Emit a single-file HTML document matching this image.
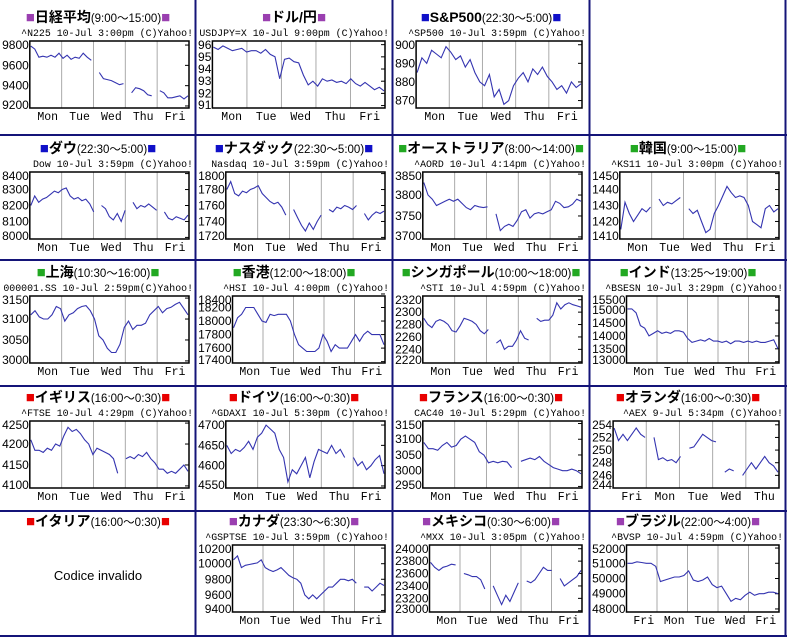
<!DOCTYPE html>
<html><head><meta charset="utf-8">
<style>
body{margin:0;background:#fff;}
svg{display:block;}
.tt{font-family:"Liberation Sans","Noto Sans CJK JP",sans-serif;}
</style></head>
<body>
<svg id="page" width="787" height="638" xmlns="http://www.w3.org/2000/svg"></svg>
<script>
// ---- data arrays ----
const n225 = [9790,9760,9680,9690,9680,9700,9680,9720,9670,9700,9660,9680,9670,9720,9680,9650,null,9530,9470,9460,9450,9430,9410,9420,null,9330,9380,9370,9350,9310,9300,null,9350,9330,9280,9280,9290,9300,9270,9300];
const usdjpy = [95.8,95.6,95.9,95.7,95.5,95.6,95.7,95.4,95.5,95.5,95.3,95.6,95.2,95.0,93.2,94.8,94.9,94.6,94.5,93.5,92.7,93.0,92.6,93.2,93.0,93.1,92.9,93.0,92.8,93.2,92.8,92.6,92.9,92.6,92.3,92.5,92.2];
const sp500 = [885,893,890,897,895,893,899,896,892,894,888,892,885,880,878,884,872,876,868,870,878,882,885,880,887,884,888,883,880,876,878,874,880,877,879];
const dow = [8200,8260,8220,8240,8250,8270,8290,8280,8300,8310,8260,8240,8250,8230,8240,8210,8160,null,8200,8180,8130,8110,8150,8100,8170,null,8220,8180,8200,8190,8210,8190,8170,null,8160,8120,8110,8130,8120,8110,8140];
const nasdaq = [1780,1790,1775,1772,1778,1776,1780,1782,1785,1775,1770,1765,1762,1764,1758,1748,null,1755,1745,1735,1728,1738,1730,1740,1748,null,1755,1752,1758,1756,1760,1758,1755,1760,null,1750,1742,1748,1752,1750,1753];
const aord = [3830,3800,3790,3775,3780,3785,3790,3785,3790,3780,3770,3765,3775,3772,3770,3772,null,3755,3715,3725,3730,3725,3740,3760,3765,3745,3755,3758,3755,3760,3765,3785,3780,3770,3772,3778,3790,3785];
const ks11 = [1415,1432,1425,1420,1424,1428,1426,1429,null,1434,1430,1432,1431,1433,1435,null,1428,1425,1427,1420,1413,1415,1425,1430,1436,1442,1438,1435,1436,1435,1430,1420,1418,1416,1428,1430,1426,1428];
const sse = [3110,3120,3105,3100,3100,3110,3130,3125,3095,3110,3115,3125,3130,3132,3120,3100,3060,3050,3030,3020,3020,3040,3080,3095,3075,3085,3085,3090,3110,3120,3130,3115,3125,3128,3135,3140,3125,3110];
const hsi = [17900,18050,18100,18200,18200,18200,18100,18000,17980,18100,18080,18100,18100,18100,18000,17800,17650,17600,17550,17550,17550,17600,17800,17700,17550,17650,17600,17600,17600,17700,17800,17700,17800,17850,17800,17800,17800,17650];
const sti = [2290,2280,2275,2285,2288,2285,2280,2270,2268,2278,2290,2288,2285,2280,2270,2265,2272,null,2250,2255,2240,2245,2245,2255,2270,2258,2255,null,2290,2285,2287,2287,2295,2315,2305,2312,2315,2312,2310,2308];
const bsesn = [15050,15050,14900,14400,14300,14000,14100,14200,14100,14150,14100,14200,14200,14150,13900,13750,13800,13850,13800,13900,13800,13800,13750,13800,13700,13800,13800,13750,13800,13750,13800,13750,13750,13800,13850,13500];
const ftse = [4210,4185,4185,4180,4190,4185,4200,4195,4220,4240,4230,4235,4225,4210,4200,4175,4190,4185,4180,4175,4165,4130,null,4165,4170,4165,4175,4170,4180,4165,4155,4140,4140,4130,4135,4130,4140,4150,4135];
const gdaxi = [4650,4630,4640,4635,4645,4660,4640,4670,4680,4700,4690,4680,4640,4620,4560,4590,4580,4600,4620,4570,4610,4640,4635,4630,4650,4630,4640,4620,null,4620,4600,4610,4590,4600,4615,4625,4580];
const cac40 = [3090,3070,3070,3065,3080,3090,3075,3080,3100,3110,3100,3090,3060,3050,3025,3030,3025,3030,3028,3010,null,3030,3035,3040,3035,3045,3030,3020,3010,3005,3000,3000,3005,3000,2990];
const aex = [253.5,251.5,252.5,251.5,252.5,253.5,252.5,252,null,252,248.5,248.8,248.3,248.5,248,249,null,250.3,250.5,251.5,252.5,252,251.5,251.3,null,246.5,247,246.7,null,246,247,248,247,248,249,248,247.5,246.5];
const gsptse = [10050,10100,9950,9980,9990,10000,10010,10050,9950,9920,9900,9920,9950,9900,9850,9820,9800,9750,9600,9550,9600,9550,9600,9650,9700,9700,9750,9800,9800,9780,9800,9750,null,9700,9700,9650,9700,9750,9720];
const mxx = [23780,23700,23650,23700,23720,23750,23740,null,23600,23580,23550,23550,23500,23350,null,23400,23250,23100,23250,23150,23300,23450,null,23480,23450,23500,23600,23700,23650,23650,null,23520,23400,23450,23500,23550,23650];
const bvsp = [51000,51000,51100,51050,51000,51000,50800,49800,49900,50000,50100,50100,50200,50500,49900,49800,49900,50100,49600,49400,49500,49000,48500,48700,48600,48900,49100,48900,49000,49000,49100,49100,49000];

const daysA = ["Mon","Tue","Wed","Thu","Fri"];
const daysAEX = ["Fri","Mon","Tue","Wed","Thu"];
const daysBV = ["Fri","Mon","Tue","Wed","Fri"];

const ticksN225=[9200,9400,9600,9800], ticksJPY=[91,92,93,94,95,96], ticksSP=[870,880,890,900];
const ticksDow=[8000,8100,8200,8300,8400], ticksNas=[1720,1740,1760,1780,1800], ticksAord=[3700,3750,3800,3850];
const ticksKs=[1410,1420,1430,1440,1450], ticksSse=[3000,3050,3100,3150], ticksHsi=[17400,17600,17800,18000,18200,18400];
const ticksSti=[2220,2240,2260,2280,2300,2320], ticksBse=[13000,13500,14000,14500,15000,15500], ticksFtse=[4100,4150,4200,4250];
const ticksDax=[4550,4600,4650,4700], ticksCac=[2950,3000,3050,3100,3150], ticksAex=[244,246,248,250,252,254];
const ticksTsx=[9400,9600,9800,10000,10200], ticksMxx=[23000,23200,23400,23600,23800,24000], ticksBv=[48000,49000,50000,51000,52000];

const PURPLE="#9a3fb0", BLUE="#1010c8", GREEN="#22a822", RED="#e80000";
const colX=[0,196,393,590];
const rowT=[17,148,272,397,521];

const charts=[
 {r:0,c:0,name:"日経平均",time:"(9:00～15:00)",col:PURPLE,sub:"^N225 10-Jul 3:00pm (C)Yahoo!",d:n225,t:ticksN225,lo:9180,hi:9840,days:daysA,id:"nikkei"},
 {r:0,c:1,name:"ドル/円",time:"",col:PURPLE,sub:"USDJPY=X 10-Jul 9:00pm (C)Yahoo!",d:usdjpy,t:ticksJPY,lo:90.8,hi:96.3,days:daysA,id:"usdjpy"},
 {r:0,c:2,name:"S&P500",time:"(22:30～5:00)",col:BLUE,sub:"^SP500 10-Jul 3:59pm (C)Yahoo!",d:sp500,t:ticksSP,lo:866,hi:902,days:daysA,id:"sp500"},
 {r:1,c:0,name:"ダウ",time:"(22:30～5:00)",col:BLUE,sub:"Dow 10-Jul 3:59pm (C)Yahoo!",d:dow,t:ticksDow,lo:7990,hi:8410,days:daysA,id:"dow"},
 {r:1,c:1,name:"ナスダック",time:"(22:30～5:00)",col:BLUE,sub:"Nasdaq 10-Jul 3:59pm (C)Yahoo!",d:nasdaq,t:ticksNas,lo:1718,hi:1802,days:daysA,id:"nasdaq"},
 {r:1,c:2,name:"オーストラリア",time:"(8:00～14:00)",col:GREEN,sub:"^AORD 10-Jul 4:14pm (C)Yahoo!",d:aord,t:ticksAord,lo:3695,hi:3855,days:daysA,id:"australia"},
 {r:1,c:3,name:"韓国",time:"(9:00～15:00)",col:GREEN,sub:"^KS11 10-Jul 3:00pm (C)Yahoo!",d:ks11,t:ticksKs,lo:1409,hi:1451,days:daysA,id:"korea"},
 {r:2,c:0,name:"上海",time:"(10:30～16:00)",col:GREEN,sub:"000001.SS 10-Jul 2:59pm(C)Yahoo!",d:sse,t:ticksSse,lo:2995,hi:3155,days:daysA,id:"shanghai"},
 {r:2,c:1,name:"香港",time:"(12:00～18:00)",col:GREEN,sub:"^HSI 10-Jul 4:00pm (C)Yahoo!",d:hsi,t:ticksHsi,lo:17380,hi:18370,days:daysA,id:"hongkong"},
 {r:2,c:2,name:"シンガポール",time:"(10:00～18:00)",col:GREEN,sub:"^STI 10-Jul 4:59pm (C)Yahoo!",d:sti,t:ticksSti,lo:2218,hi:2326,days:daysA,id:"singapore"},
 {r:2,c:3,name:"インド",time:"(13:25～19:00)",col:GREEN,sub:"^BSESN 10-Jul 3:29pm (C)Yahoo!",d:bsesn,t:ticksBse,lo:12950,hi:15550,days:daysA,id:"india"},
 {r:3,c:0,name:"イギリス",time:"(16:00～0:30)",col:RED,sub:"^FTSE 10-Jul 4:29pm (C)Yahoo!",d:ftse,t:ticksFtse,lo:4095,hi:4255,days:daysA,id:"uk"},
 {r:3,c:1,name:"ドイツ",time:"(16:00～0:30)",col:RED,sub:"^GDAXI 10-Jul 5:30pm (C)Yahoo!",d:gdaxi,t:ticksDax,lo:4545,hi:4710,days:daysA,id:"germany"},
 {r:3,c:2,name:"フランス",time:"(16:00～0:30)",col:RED,sub:"CAC40 10-Jul 5:29pm (C)Yahoo!",d:cac40,t:ticksCac,lo:2945,hi:3158,days:daysA,id:"france"},
 {r:3,c:3,name:"オランダ",time:"(16:00～0:30)",col:RED,sub:"^AEX 9-Jul 5:34pm (C)Yahoo!",d:aex,t:ticksAex,lo:244,hi:254.6,days:daysAEX,id:"netherlands"},
 {r:4,c:0,name:"イタリア",time:"(16:00～0:30)",col:RED,sub:null,id:"italy"},
 {r:4,c:1,name:"カナダ",time:"(23:30～6:30)",col:PURPLE,sub:"^GSPTSE 10-Jul 3:59pm (C)Yahoo!",d:gsptse,t:ticksTsx,lo:9380,hi:10240,days:daysA,id:"canada"},
 {r:4,c:2,name:"メキシコ",time:"(0:30～6:00)",col:PURPLE,sub:"^MXX 10-Jul 3:05pm (C)Yahoo!",d:mxx,t:ticksMxx,lo:22980,hi:24060,days:daysA,id:"mexico"},
 {r:4,c:3,name:"ブラジル",time:"(22:00～4:00)",col:PURPLE,sub:"^BVSP 10-Jul 4:59pm (C)Yahoo!",d:bvsp,t:ticksBv,lo:47800,hi:52200,days:daysBV,id:"brazil"}
];

const NS="http://www.w3.org/2000/svg";
const svg=document.getElementById('page');
function mk(tag,attrs,parent){const e=document.createElementNS(NS,tag);for(const k in attrs)e.setAttribute(k,attrs[k]);(parent||svg).appendChild(e);return e;}

const borderG=mk('g',{});


[195.5,392.5,589.5,785.5].forEach(x=>mk('line',{x1:x,y1:0,x2:x,y2:637,stroke:"#141478","stroke-width":2},borderG));
[135,260,386,511,636].forEach(y=>mk('line',{x1:0,y1:y,x2:787,y2:y,stroke:"#141478","stroke-width":2},borderG));

charts.forEach(ch=>{
  const g=mk('g',{});
  
  
  const x0=colX[ch.c], tc=rowT[ch.r];
  const cx=x0+98;
  const title=mk('text',{x:cx,y:tc+5,"text-anchor":"middle",class:"tt"},g);
  
  
  const s1=mk('tspan',{fill:ch.col,"font-size":"15"},title);s1.textContent="■";
  const s2=mk('tspan',{"font-size":"14","font-weight":"bold",fill:"#000"},title);s2.textContent=ch.name;
  if(ch.time){const s3=mk('tspan',{"font-size":"11.5",fill:"#000"},title);s3.textContent=ch.time;}
  const s4=mk('tspan',{fill:ch.col,"font-size":"15"},title);s4.textContent="■";
  if(!ch.sub){
    const t=mk('text',{x:cx,y:580,"text-anchor":"middle","font-family":"Liberation Sans, sans-serif","font-size":"13",fill:"#000"},g);
    
    
    t.textContent="Codice invalido";
    return;
  }
  const sub=mk('text',{x:x0+193,y:tc+19,"text-anchor":"end","font-family":"Liberation Mono, monospace","font-size":"9.9",fill:"#000"},g);
  
  
  sub.textContent=ch.sub;
  const maxLen=Math.max(...ch.t.map(v=>String(v).length));
  const L=x0+maxLen*6.7+3, R=x0+189, T=tc+24, B=tc+91;
  const y=v=>B-(v-ch.lo)/(ch.hi-ch.lo)*(B-T);
  const n=ch.d.length;
  const x=i=>L+1+i*(R-L-2)/(n-1);
  const sw=(R-L)/5;
  for(let k=1;k<5;k++){const gl=mk('line',{x1:L+k*sw,y1:T,x2:L+k*sw,y2:B,stroke:"#aaa","stroke-width":1},g);
    
    }
  ch.t.forEach(v=>{
    let yy=Math.max(T+4,Math.min(B-3,y(v)));
    const lb=mk('text',{x:L-1,y:yy+4,"text-anchor":"end","font-family":"Liberation Sans, sans-serif","font-size":"12",fill:"#000"},g);
    
    
    lb.textContent=v;
    mk('line',{x1:R-4,y1:y(v),x2:R,y2:y(v),stroke:"#000","stroke-width":1},g);
  });
  ch.days.forEach((dl,k)=>{
    const t=mk('text',{x:L+sw*(k+0.5)+2,y:B+12,"text-anchor":"middle","font-family":"Liberation Mono, monospace","font-size":"11.5",fill:"#000"},g);
    
    
    t.textContent=dl;
  });
  let d="",pen=false;
  ch.d.forEach((v,i)=>{
    if(v===null){pen=false;return;}
    d+=(pen?"L":"M")+x(i).toFixed(1)+","+y(v).toFixed(1);pen=true;
  });
  const p=mk('path',{d:d,fill:"none",stroke:"#3434b0","stroke-width":1.1},g);
  
  
  const fr=mk('rect',{x:L,y:T,width:R-L,height:B-T,fill:"none",stroke:"#000","stroke-width":1.5},g);
  
  
});
</script>
</body></html>
